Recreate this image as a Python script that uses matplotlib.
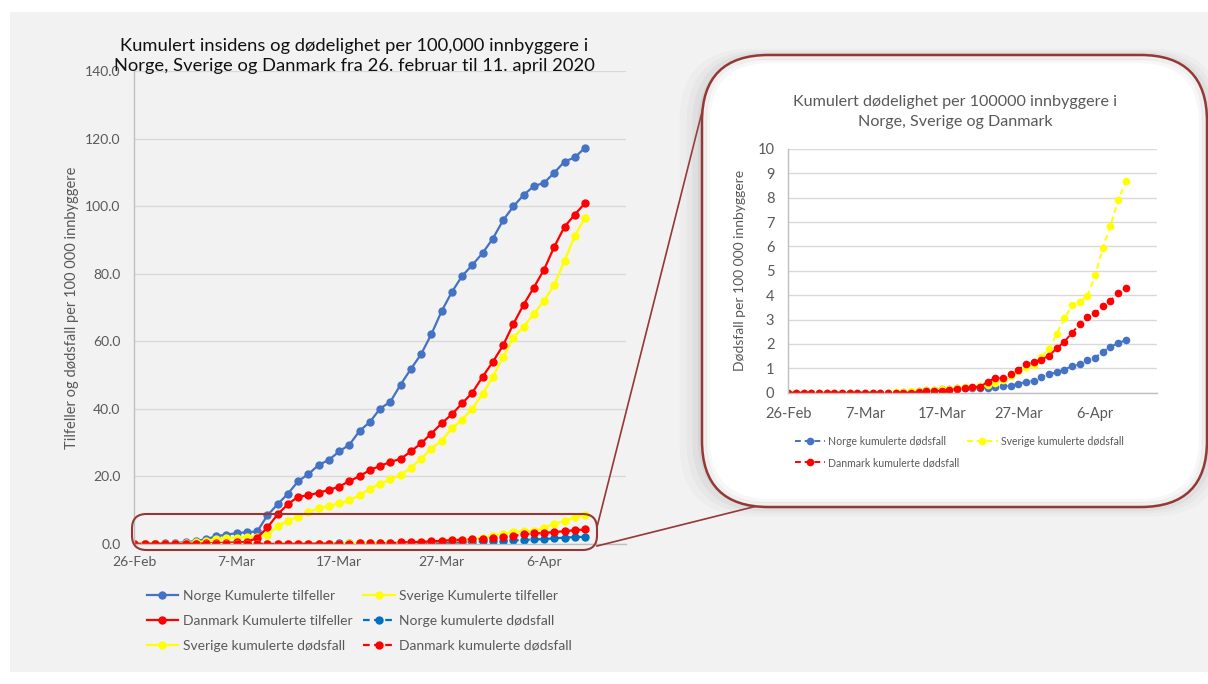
import numpy as np
import matplotlib
matplotlib.use("Agg")
import matplotlib.pyplot as plt
from matplotlib.patches import FancyBboxPatch, Rectangle
from matplotlib.lines import Line2D

plt.rcParams['font.family'] = ['Lato', 'DejaVu Sans']

# day index 0 = 26-Feb, last = 10-Apr
dager = np.arange(45)
tick_pos = [0, 10, 20, 30, 40]
tick_labels = ["26-Feb", "7-Mar", "17-Mar", "27-Mar", "6-Apr"]

norge_tilfeller = [0.02, 0.02, 0.1, 0.2, 0.3, 0.5, 0.9, 1.4, 2.3, 2.8, 3.2, 3.5, 3.7,
                   8.5, 11.8, 14.9, 18.6, 20.7, 23.4, 24.9, 27.4, 29.4, 33.5, 36.1, 40.1, 42.1,
                   47.2, 51.8, 56.2, 62.1, 68.9, 74.6, 79.3, 82.6, 86.1, 90.4, 95.8, 99.9,
                   103.3, 105.9, 106.9, 109.9, 113.2, 114.4, 117.3]
sverige_tilfeller = [0.01, 0.07, 0.1, 0.13, 0.14, 0.3, 0.5, 0.9, 1.4, 1.7, 1.9, 2.1, 2.2,
                     2.6, 5.3, 6.9, 8.1, 9.5, 10.6, 11.2, 12.0, 13.0, 14.4, 16.4, 17.7, 19.2,
                     20.4, 22.6, 25.2, 28.2, 30.6, 34.2, 36.8, 40.1, 44.4,
                     49.5, 55.4, 61.0, 64.3, 68.1, 72.0, 76.7, 83.8, 91.2, 96.5]
danmark_tilfeller = [0, 0.02, 0.02, 0.03, 0.05, 0.07, 0.1, 0.17, 0.25, 0.4, 0.45, 0.6, 1.8,
                     4.9, 8.8, 11.8, 14.0, 14.4, 15.2, 16.0, 17.0, 18.6, 20.1,
                     21.9, 23.1, 24.3, 25.2, 27.4, 29.8, 32.7, 35.7, 38.4, 41.6, 44.8,
                     49.5, 53.9, 58.8, 65.1, 70.8, 75.9, 81.2, 88.0, 93.9, 97.5, 100.9]

norge_dodsfall = [0] * 15 + [0.02, 0.04, 0.06, 0.1, 0.13, 0.15, 0.17, 0.18, 0.18, 0.19, 0.19,
                             0.2, 0.22, 0.27, 0.29, 0.37, 0.44, 0.5, 0.65, 0.75, 0.84, 0.95,
                             1.09, 1.16, 1.36, 1.43, 1.69, 1.88, 2.04, 2.15]
sverige_dodsfall = [0] * 14 + [0.01, 0.01, 0.06, 0.08, 0.1, 0.12, 0.14, 0.16, 0.2, 0.22, 0.24,
                               0.27, 0.3, 0.38, 0.54, 0.68, 0.87, 1.06, 1.12, 1.47, 1.81, 2.41,
                               3.06, 3.59, 3.73, 3.97, 4.81, 5.95, 6.86, 7.89, 8.67]
danmark_dodsfall = [0] * 17 + [0.03, 0.08, 0.08, 0.08, 0.11, 0.16, 0.19, 0.24, 0.24, 0.45, 0.6,
                               0.6, 0.78, 0.95, 1.16, 1.27, 1.36, 1.52, 1.82, 2.1, 2.46, 2.82,
                               3.12, 3.27, 3.54, 3.78, 4.08, 4.3]

BLA = "#4472C4"
BLA_MORK = "#0070C0"
GUL = "#FFFF00"
ROD = "#FF0000"
GRA_TEKST = "#595959"
GRID = "#D9D9D9"
KANT = "#953735"

W, H = 1208, 684
fig = plt.figure(figsize=(W / 100, H / 100), dpi=100)


def fx(px):
    return px / W


def fy(py):
    return 1 - py / H


# grey panel behind everything
fig.patches.append(Rectangle((fx(10), fy(672)), fx(1208) - fx(10), fy(12) - fy(672),
                             transform=fig.transFigure, facecolor="#F2F2F2",
                             edgecolor="none", zorder=-10))


def style_axes(ax, ymax, ystep, fmt):
    ax.set_facecolor("none")
    ax.set_xlim(0, 48)
    ax.set_ylim(0, ymax)
    ax.set_yticks(np.arange(0, ymax + ystep / 2, ystep))
    ax.set_yticklabels([fmt.format(v) for v in np.arange(0, ymax + ystep / 2, ystep)])
    ax.set_xticks(tick_pos)
    ax.set_xticklabels(tick_labels)
    ax.grid(axis="y", color=GRID, linewidth=1)
    ax.set_axisbelow(True)
    for s in ["top", "right"]:
        ax.spines[s].set_visible(False)
    for s in ["left", "bottom"]:
        ax.spines[s].set_color("#BFBFBF")
        ax.spines[s].set_linewidth(1)
    ax.tick_params(length=0, colors=GRA_TEKST, labelsize=10)


# ---- main chart ----
ax = fig.add_axes([fx(134.3), fy(544), fx(626) - fx(134.3), fy(71) - fy(544)])
style_axes(ax, 140, 20, "{:.1f}")
ax.tick_params(axis="y", pad=10)
ax.tick_params(axis="x", pad=9)

ms = 5
ax.plot(dager, norge_tilfeller, color=BLA, lw=1.6, marker="o", ms=ms,
        label="Norge Kumulerte tilfeller")
ax.plot(dager, sverige_tilfeller, color=GUL, lw=1.6, marker="o", ms=ms,
        label="Sverige Kumulerte tilfeller")
ax.plot(dager, danmark_tilfeller, color=ROD, lw=1.6, marker="o", ms=ms,
        label="Danmark Kumulerte tilfeller")
ax.plot(dager, norge_dodsfall, color=BLA_MORK, lw=1.6, ls=(0, (3, 2)), marker="o", ms=ms,
        label="Norge kumulerte dødsfall")
ax.plot(dager, sverige_dodsfall, color=GUL, lw=1.6, marker="o", ms=ms,
        label="Sverige kumulerte dødsfall")
ax.plot(dager, danmark_dodsfall, color=ROD, lw=1.6, ls=(0, (3, 2)), marker="o", ms=ms,
        label="Danmark kumulerte dødsfall")

ax.set_ylabel("Tilfeller og dødsfall per 100 000 innbyggere", color=GRA_TEKST,
              fontsize=10.5, labelpad=4)

fig.text(fx(354), fy(56), "Kumulert insidens og dødelighet per 100,000 innbyggere i\n"
         "Norge, Sverige og Danmark fra 26. februar til 11. april 2020",
         ha="center", va="center", fontsize=13.2, color="#111111", linespacing=1.3)

h, l = ax.get_legend_handles_labels()
rekkefolge = [0, 2, 4, 1, 3, 5]
fig.legend([h[i] for i in rekkefolge], [l[i] for i in rekkefolge], ncol=2,
           loc="upper left", bbox_to_anchor=(fx(134), fy(577)), frameon=False,
           fontsize=10, labelcolor=GRA_TEKST, handlelength=2.3, handletextpad=0.3,
           columnspacing=0.8, labelspacing=0.95)

# highlight box around the low values
fig.patches.append(FancyBboxPatch((fx(132), fy(550)), fx(597) - fx(132), fy(514) - fy(550),
                                  boxstyle="round,pad=0,rounding_size=0.012",
                                  transform=fig.transFigure, facecolor="none",
                                  edgecolor=KANT, linewidth=1.5, zorder=5,
                                  mutation_aspect=W / H))

# connector lines to the zoom panel
fig.lines.append(Line2D([fx(597), fx(705)], [fy(527), fy(100)], transform=fig.transFigure,
                        color=KANT, linewidth=1.2, zorder=5))
fig.lines.append(Line2D([fx(597), fx(765)], [fy(546), fy(504)], transform=fig.transFigure,
                        color=KANT, linewidth=1.2, zorder=5))

# ---- zoom panel with soft shadow ----
for grow, alpha in [(16, 0.04), (11, 0.05), (7, 0.07), (3, 0.1)]:
    fig.patches.append(FancyBboxPatch((fx(702 - grow * 1.4), fy(507 + grow * 0.6)),
                                      fx(1207 + grow) - fx(702 - grow * 1.4),
                                      fy(55 - grow * 0.4) - fy(507 + grow * 0.6),
                                      boxstyle="round,pad=0,rounding_size=0.06",
                                      mutation_aspect=W / H,
                                      transform=fig.transFigure, facecolor="#7F7F7F",
                                      edgecolor="none", alpha=alpha, zorder=6))
fig.patches.append(FancyBboxPatch((fx(702), fy(507)), fx(1207) - fx(702), fy(55) - fy(507),
                                  boxstyle="round,pad=0,rounding_size=0.055",
                                  mutation_aspect=W / H,
                                  transform=fig.transFigure, facecolor="white",
                                  edgecolor=KANT, linewidth=1.8, zorder=7))
# inner bevel
for inset_px, alpha in [(3, 0.12), (6, 0.06)]:
    fig.patches.append(FancyBboxPatch((fx(702 + inset_px), fy(507 - inset_px)),
                                      fx(1207 - inset_px) - fx(702 + inset_px),
                                      fy(55 + inset_px) - fy(507 - inset_px),
                                      boxstyle="round,pad=0,rounding_size=0.052",
                                      mutation_aspect=W / H,
                                      transform=fig.transFigure, facecolor="none",
                                      edgecolor="#808080", linewidth=3, alpha=alpha,
                                      zorder=7))

ax2 = fig.add_axes([fx(788.3), fy(392.7), fx(1156.5) - fx(788.3), fy(149) - fy(392.7)])
ax2.set_zorder(8)
style_axes(ax2, 10, 1, "{:.0f}")
ax2.tick_params(axis="y", pad=10, labelsize=10.5)
ax2.tick_params(axis="x", pad=10, labelsize=10.5)

ms2 = 4.5
ax2.plot(dager, norge_dodsfall, color=BLA, lw=1.4, ls=(0, (3, 2)), marker="o", ms=ms2,
         label="Norge kumulerte dødsfall")
ax2.plot(dager, sverige_dodsfall, color=GUL, lw=1.4, ls=(0, (3, 2)), marker="o", ms=ms2,
         label="Sverige kumulerte dødsfall")
ax2.plot(dager, danmark_dodsfall, color=ROD, lw=1.4, ls=(0, (3, 2)), marker="o", ms=ms2,
         label="Danmark kumulerte dødsfall")
ax2.set_ylabel("Dødsfall per 100 000 innbyggere", color=GRA_TEKST, fontsize=10, labelpad=8)

fig.text(fx(955), fy(112), "Kumulert dødelighet per 100000 innbyggere i\n"
         "Norge, Sverige og Danmark", ha="center", va="center", fontsize=11.6,
         color=GRA_TEKST, linespacing=1.6, zorder=9)

h2, l2 = ax2.get_legend_handles_labels()
leg2 = fig.legend([h2[0], h2[2], h2[1]], [l2[0], l2[2], l2[1]], ncol=2,
                  loc="upper left", bbox_to_anchor=(fx(785), fy(426)), frameon=False,
                  fontsize=7.6, labelcolor=GRA_TEKST, handlelength=2.9, handletextpad=0.3,
                  columnspacing=0.7, labelspacing=1.0)
leg2.set_zorder(9)

fig.savefig("out.png", dpi=100)
